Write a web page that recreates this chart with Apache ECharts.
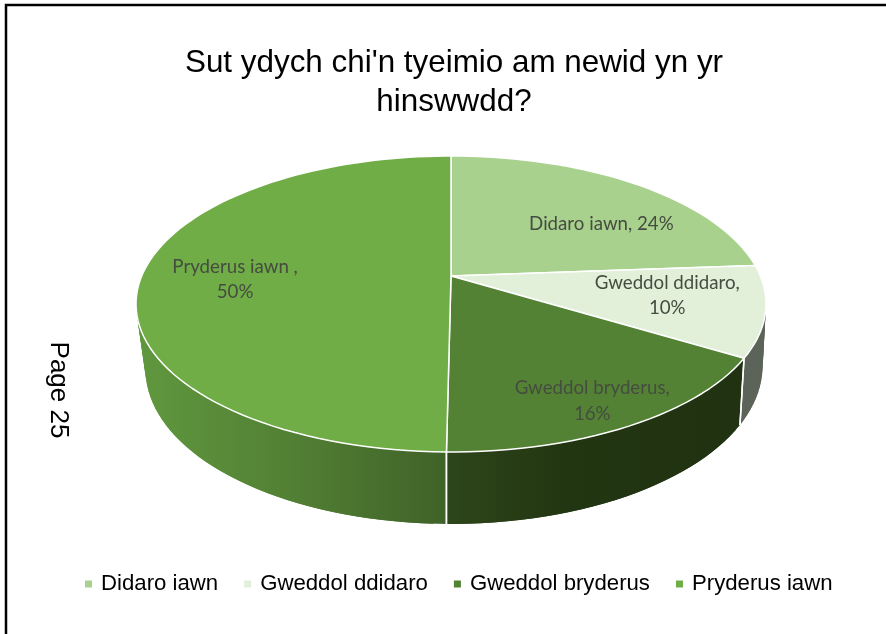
<!DOCTYPE html>
<html><head><meta charset="utf-8">
<style>html,body{margin:0;padding:0;background:#fff}#c{width:886px;height:634px}</style>
<script src="https://cdn.jsdelivr.net/npm/echarts@6/dist/echarts.min.js"></script>
</head><body><div id="c"></div>
<script>
const titleText = "Sut ydych chi'n tyeimio am newid yn yr\nhinswwdd?";
const pageText = "Page 25";
const categories = ["Didaro iawn", "Gweddol ddidaro", "Gweddol bryderus", "Pryderus iawn"];
const values = [23.8, 9.9, 16.49, 49.81];
const colors = ["#A9D18E", "#E2EFD9", "#548235", "#70AD47"];
const labelSeparators = [", ", ",\n", ",\n", " ,\n"];
const labelOffsets = [[25, 10], [15, -3], [32, 34], [-15, 4]];
// side-wall shading: [x pixel, colour]
const sideStops = [
  [[100, "#78826f"], [900, "#78826f"]],
  [[700, "#5c6358"], [800, "#5c6358"]],
  [[445, "#2e461b"], [560, "#233612"], [745, "#203211"]],
  [[137, "#60983e"], [290, "#528034"], [445, "#406228"]]
];
// perspective model of the disc
const K = 0.1892;
const TOP = {x: 451, y: 276, a: 309.3, b: 142.7, s: 0};
const BOT = {x: 454.6, y: 338, a: 303, b: 150.8, s: -3};
const STEP = 2;

function proj(face, deg, f) {
  const t = deg * Math.PI / 180, r = f === undefined ? 1 : f;
  const u = Math.sin(t) * r, v = -Math.cos(t) * r, w = 1 - K * v;
  return [face.x + face.a * u / w + face.s * v / w, face.y + face.b * v / w];
}
function wallGradient(stops) {
  const x0 = stops[0][0], x1 = stops[stops.length - 1][0];
  return {type: "linear", global: true, x: x0, y: 0, x2: x1, y2: 0,
    colorStops: stops.map(s => ({offset: (s[0] - x0) / (x1 - x0), color: s[1]}))};
}
const total = values.reduce((a, b) => a + b, 0);

function renderSlice(i) {
  return function (params, api) {
    const before = values.slice(0, i).reduce((a, b) => a + b, 0);
    const start = before / total * 360;
    const end = (before + api.value(0)) / total * 360;
    const children = [];
    const rim = [];
    for (let d = start; d < end; d += STEP) rim.push(d);
    rim.push(end);
    const fill = wallGradient(sideStops[i]);
    // side wall: overlapping quads so the silhouette stays solid without seams
    for (let n = 0; n < rim.length - 1; n++) {
      const e = rim[Math.min(n + 2, rim.length - 1)];
      children.push({type: "polygon", z2: 1, silent: true,
        shape: {points: [proj(TOP, rim[n]), proj(TOP, e), proj(BOT, e), proj(BOT, rim[n])]},
        style: {fill: fill}});
    }
    // white seams on the wall
    [start, end].forEach(d => {
      const a = proj(TOP, d), b = proj(BOT, d);
      if (a[1] > 300) children.push({type: "line", z2: 2, silent: true,
        shape: {x1: a[0], y1: a[1], x2: b[0], y2: b[1]},
        style: {stroke: "#fff", lineWidth: 1.5}});
    });
    // top face
    children.push({type: "polygon", z2: 5,
      shape: {points: [[TOP.x, TOP.y]].concat(rim.map(d => proj(TOP, d)))},
      style: {fill: colors[i], stroke: "#fff", lineWidth: 1.5, lineJoin: "round"}});
    // label
    const mid = (start + end) / 2, p = proj(TOP, mid, 0.65);
    children.push({type: "text", z2: 8, silent: true,
      x: p[0] + labelOffsets[i][0], y: p[1] + labelOffsets[i][1],
      style: {text: categories[i] + labelSeparators[i] + Math.round(api.value(0)) + "%",
        fill: "#454c40", font: '18.7px Lato', align: "center", verticalAlign: "middle", lineHeight: 25.5}});
    return {type: "group", children};
  };
}

const chart = echarts.init(document.getElementById("c"), null, {renderer: "canvas"});
chart.setOption({
  backgroundColor: "#fff",
  animation: false,
  title: {text: titleText, left: 449, top: 39, textAlign: "center",
    textStyle: {fontFamily: "Liberation Sans", fontWeight: "normal", fontSize: 31.4, lineHeight: 39, color: "#000"}},
  legend: {data: categories, left: 80, top: 568, itemWidth: 7, itemHeight: 7, itemGap: 26, icon: "rect",
    textStyle: {fontFamily: "Liberation Sans", fontSize: 22.2, color: "#000", padding: [0, 0, 0, 4]}},
  graphic: [
    {type: "polyline", z: 100, silent: true, shape: {points: [[6, 634], [6, 5], [886, 5]]},
      style: {stroke: "#000", lineWidth: 2.5, fill: null}},
    {type: "text", z: 100, silent: true, x: 58, y: 390, rotation: -Math.PI / 2,
      style: {text: pageText, font: '26px "Liberation Sans"', fill: "#000", align: "center", verticalAlign: "middle"}}
  ],
  series: categories.map((name, i) => ({
    type: "custom", name, coordinateSystem: "none",
    itemStyle: {color: colors[i]},
    renderItem: renderSlice(i), data: [values[i]]
  }))
});
</script></body></html>
